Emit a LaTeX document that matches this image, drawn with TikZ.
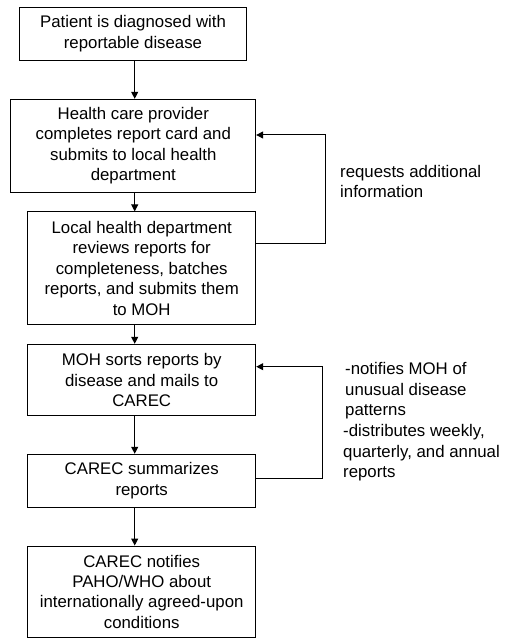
\documentclass[tikz,border=0pt]{standalone}
\usepackage{fontspec}
\setmainfont{Liberation Sans}
\usetikzlibrary{arrows.meta}
\begin{document}
\begin{tikzpicture}[x=1pt,y=-1pt,
  txt/.style={font=\fontsize{16.8}{20.4}\selectfont},
  box/.style={txt, draw, line width=1pt, rectangle, inner sep=0pt, align=center, minimum width=228pt},
  note/.style={txt, inner sep=0pt, align=left, anchor=west},
  flow/.style={line width=1pt, -{Triangle[length=7pt,width=7pt]}}]
\useasboundingbox (0,0) rectangle (508,639);
\node[box, minimum width=227.4pt, minimum height=52.7pt] (b1) at (133,33.7) {Patient is diagnosed with\\reportable disease};
\node[box, minimum width=244.7pt, minimum height=93pt] (b2) at (133.3,145.8) {Health care provider\\completes report card and\\submits to local health\\department};
\node[box, minimum height=112.6pt] (b3) at (141.7,268.2) {Local health department\\reviews reports for\\completeness, batches\\reports, and submits them\\to MOH};
\node[box, minimum height=71.4pt] (b4) at (141.7,380) {MOH sorts reports by\\disease and mails to\\CAREC};
\node[box, minimum height=53pt] (b5) at (141.7,480.8) {CAREC summarizes\\reports};
\node[box, minimum height=91.3pt] (b6) at (141.7,591.7) {CAREC notifies\\PAHO/WHO about\\internationally agreed-upon\\conditions};
\coordinate (ax) at (134.7,0);
\draw[flow] (b1.south -| ax) -- (b2.north -| ax);
\draw[flow] (b2.south -| ax) -- (b3.north -| ax);
\draw[flow] (b3.south -| ax) -- (b4.north -| ax);
\draw[flow] (b4.south -| ax) -- (b5.north -| ax);
\draw[flow] (b5.south -| ax) -- (b6.north -| ax);
\draw[flow] ([yshift=24.5pt]b3.east) -- ++(69.3,0) |- ([yshift=10.8pt]b2.east);
\draw[flow] ([yshift=2.1pt]b5.east) -- ++(66.3,0) |- ([yshift=13.3pt]b4.east);
\node[note] (n1) at (340,181.5) {requests additional\\information};
\node[note] (n2) at (345,391) {-notifies MOH of\\unusual disease\\patterns};
\node[note] (n3) at (343,453) {-distributes weekly,\\quarterly, and annual\\reports};
\end{tikzpicture}
\end{document}
